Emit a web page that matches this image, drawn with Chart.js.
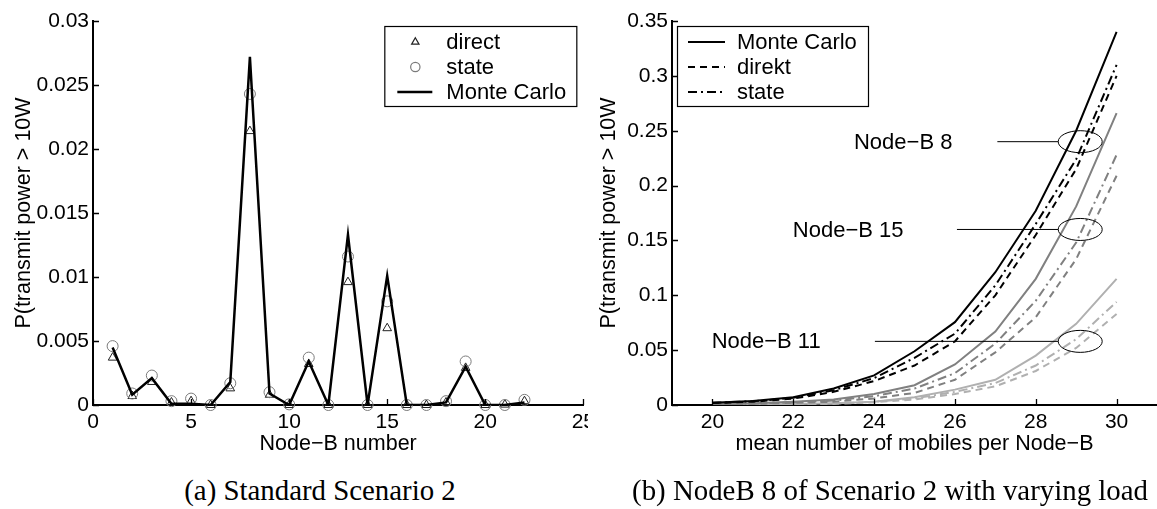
<!DOCTYPE html>
<html><head><meta charset="utf-8">
<script src="https://cdn.jsdelivr.net/npm/chart.js@4.4.0/dist/chart.umd.min.js"></script>
<style>
html,body{margin:0;padding:0;background:#fff;}
body{width:1157px;height:509px;position:relative;overflow:hidden;}
#c1{position:absolute;left:0;top:0;}
#c2{position:absolute;left:588px;top:0;background:#fff;}
.cap{position:absolute;font-family:"Liberation Serif","DejaVu Serif",serif;color:#000;white-space:nowrap;transform:translate(-50%,-50%);font-size:22px;}
</style></head><body>
<canvas id="c1" width="600" height="460"></canvas>
<canvas id="c2" width="569" height="460"></canvas>
<div class="cap" id="capA" style="left:320px;top:490px">(a) Standard Scenario 2</div>
<div class="cap" id="capB" style="left:890px;top:490px">(b) NodeB 8 of Scenario 2 with varying load</div>
<script>
// ---------- data: chart (a) ----------
const nodeIds     = [1,2,3,4,5,6,7,8,9,10,11,12,13,14,15,16,17,18,19,20,21,22];
const monteCarloA = [0.0045,0.0008,0.0021,0.0001,0.0001,0,0.0018,0.0272,0.0009,0,0.0034,0,0.0133,0,0.0101,0,0,0.0002,0.0030,0,0,0.0002];
const directA     = [0.0037,0.0007,0.0018,0.0002,0.0003,0,0.0013,0.0214,0.0008,0,0.0032,0,0.0096,0,0.0060,0,0,0.0002,0.0029,0,0.00003,0.0003];
const stateA      = [0.0046,0.0009,0.0023,0.0003,0.0005,0,0.0017,0.0243,0.0010,0.00005,0.0037,0,0.0116,0,0.0081,0,0,0.0003,0.0034,0,0,0.0004];
const xTicksA = [0,5,10,15,20,25];
const xTickLabelsA = ['0','5','10','15','20','25'];
const yTicksA = [0,0.005,0.01,0.015,0.02,0.025,0.03];
const yTickLabelsA = ['0','0.005','0.01','0.015','0.02','0.025','0.03'];

// ---------- data: chart (b) ----------
const loadB = [20,21,22,23,24,25,26,27,28,29,30];
const mc8     = [0.002,0.0036,0.007,0.015,0.027,0.049,0.0755,0.121,0.177,0.25,0.34];
const direkt8 = [0.0018,0.003,0.0058,0.012,0.0218,0.036,0.058,0.100,0.155,0.215,0.30];
const state8  = [0.002,0.0034,0.0065,0.0135,0.0245,0.043,0.065,0.109,0.165,0.224,0.31];
const mc15     = [0.001,0.0015,0.003,0.005,0.010,0.018,0.037,0.067,0.115,0.181,0.266];
const direkt15 = [0.0005,0.001,0.002,0.003,0.006,0.011,0.023,0.048,0.080,0.133,0.209];
const state15  = [0.0007,0.0012,0.0025,0.004,0.008,0.015,0.029,0.056,0.095,0.148,0.228];
const mc11     = [0.0002,0.0004,0.0008,0.0015,0.003,0.007,0.014,0.023,0.045,0.074,0.115];
const direkt11 = [0.0001,0.0002,0.0005,0.001,0.0025,0.005,0.010,0.017,0.031,0.052,0.083];
const state11  = [0.0002,0.0003,0.0006,0.0012,0.003,0.006,0.012,0.020,0.036,0.060,0.094];
const xTicksB = [20,22,24,26,28,30];
const xTickLabelsB = ['20','22','24','26','28','30'];
const yTicksB = [0,0.05,0.1,0.15,0.2,0.25,0.3,0.35];
const yTickLabelsB = ['0','0.05','0.1','0.15','0.2','0.25','0.3','0.35'];
const nodeLabels = ['Node\u2212B 8','Node\u2212B 15','Node\u2212B 11'];
const nodeLabelY = [0.24,0.16,0.058];

// ---------- styling ----------
Chart.defaults.font.family = '"Liberation Sans", Arial, Helvetica, sans-serif';
Chart.defaults.color = '#000';
const FS = 21;
const FT = 21.5;
const LEGFONT = '22px "Liberation Sans", Arial, sans-serif';
const DASH = [7,5];
const DASHDOT = [9,4,2,4];

function pts(xs, ys){ return xs.map((x,i)=>({x:x,y:ys[i]})); }

const axisDecor = {
  id:'axisDecor',
  afterDraw(chart, args, opts){
    const {ctx, chartArea:a, scales:{x,y}} = chart;
    ctx.save();
    ctx.strokeStyle='#000'; ctx.lineWidth=1.3;
    ctx.beginPath();
    x.ticks.forEach(t=>{const px=Math.round(x.getPixelForValue(t.value))+0.5; ctx.moveTo(px,a.bottom); ctx.lineTo(px,a.bottom-6);});
    y.ticks.forEach(t=>{const py=Math.round(y.getPixelForValue(t.value))+0.5; ctx.moveTo(a.left,py); ctx.lineTo(a.left+6,py);});
    ctx.stroke();
    // legend
    const L = opts.legend;
    if (L){
      const bx = L.anchor==='right' ? a.right - L.dx - L.w : a.left + L.dx;
      const by = L.top;
      ctx.fillStyle='#fff';
      ctx.fillRect(bx,by,L.w,L.h);
      ctx.lineWidth=1.2; ctx.strokeStyle='#000';
      ctx.strokeRect(bx+0.5,by+0.5,L.w,L.h);
      ctx.font = LEGFONT;
      ctx.textBaseline='middle'; ctx.textAlign='left';
      L.items.forEach((it,k)=>{
        const ds = chart.data.datasets[it];
        const ry = by + 16 + k*25;
        if (ds.showLine === false){
          ctx.save();
          ctx.strokeStyle = ds.pointBorderColor; ctx.fillStyle='rgba(0,0,0,0)';
          Chart.helpers.drawPoint(ctx,{pointStyle:ds.pointStyle,radius:ds.pointRadius*0.85,borderWidth:ds.pointBorderWidth,rotation:0},bx+L.mx,ry);
          ctx.restore();
        } else {
          ctx.save();
          ctx.strokeStyle = ds.borderColor; ctx.lineWidth = ds.borderWidth;
          ctx.setLineDash(ds.borderDash||[]);
          ctx.beginPath(); ctx.moveTo(bx+L.l0,ry); ctx.lineTo(bx+L.l1,ry); ctx.stroke();
          ctx.restore();
        }
        ctx.fillStyle='#000';
        ctx.fillText(ds.label, bx+L.tx, ry+1);
      });
    }
    // annotations
    const A = opts.annotations;
    if (A){
      ctx.font = LEGFONT;
      ctx.textBaseline='middle'; ctx.textAlign='center';
      A.forEach(an=>{
        const py = y.getPixelForValue(an.y);
        const ex = x.getPixelForValue(an.ellX);
        ctx.fillStyle='#000';
        ctx.fillText(an.text, x.getPixelForValue(an.textX), py+1);
        ctx.strokeStyle='#000'; ctx.lineWidth=1; ctx.setLineDash([]);
        ctx.beginPath(); ctx.moveTo(x.getPixelForValue(an.lineX), py); ctx.lineTo(ex-22, py); ctx.stroke();
        ctx.beginPath(); ctx.ellipse(ex, py, 22, 11, 0, 0, Math.PI*2); ctx.stroke();
      });
    }
    ctx.restore();
  }
};

function tickFont(){ return {size:FS}; }

// ---------- chart (a) ----------
new Chart(document.getElementById('c1'), {
  type:'line',
  data:{datasets:[
    {label:'Monte Carlo', data:pts(nodeIds,monteCarloA), borderColor:'#000', borderWidth:2.5, pointRadius:0, tension:0, fill:false},
    {label:'state', data:pts(nodeIds,stateA), showLine:false, pointStyle:'circle', pointRadius:5.5, pointBorderColor:'#7a7a7a', pointBackgroundColor:'rgba(0,0,0,0)', pointBorderWidth:1, clip:false},
    {label:'direct', data:pts(nodeIds,directA), showLine:false, pointStyle:'triangle', pointRadius:5, pointBorderColor:'#222', pointBackgroundColor:'rgba(0,0,0,0)', pointBorderWidth:1, clip:false}
  ]},
  options:{
    responsive:false, animation:false, events:[],
    layout:{padding:{top:21,right:15,left:0,bottom:0}},
    plugins:{legend:{display:false}, tooltip:{enabled:false},
      axisDecor:{legend:{anchor:'right', dx:7, w:192, h:80, top:26, items:[2,1,0], mx:31, l0:13, l1:48, tx:62}}},
    scales:{
      x:{type:'linear', min:0, max:25,
        afterBuildTicks:s=>{s.ticks = xTicksA.map(v=>({value:v}));},
        afterFit:s=>{s.height=55;},
        grid:{display:false, drawTicks:false}, border:{display:true, color:'#000', width:2},
        ticks:{padding:5, font:tickFont(), maxRotation:0, autoSkip:false, callback:(v,i)=>xTickLabelsA[i]},
        title:{display:true, text:'Node\u2212B number', font:{size:FT}, padding:{top:0,bottom:3}}},
      y:{type:'linear', min:0, max:0.03,
        afterBuildTicks:s=>{s.ticks = yTicksA.map(v=>({value:v}));},
        afterFit:s=>{s.width=93;},
        grid:{display:false, drawTicks:false}, border:{display:true, color:'#000', width:2},
        ticks:{padding:4, font:tickFont(), autoSkip:false, callback:(v,i)=>yTickLabelsA[i]},
        title:{display:true, text:'P(transmit power > 10W', font:{size:FT}, padding:{top:11,bottom:0}}}
    }
  },
  plugins:[axisDecor]
});

// ---------- chart (b) ----------
const C8='#000000', C15='#808080', C11='#b0b0b0';
function lineDs(label, ys, color, dash){
  return {label:label, data:pts(loadB,ys), borderColor:color, borderWidth:2, borderDash:dash, pointRadius:0, tension:0, fill:false};
}
new Chart(document.getElementById('c2'), {
  type:'line',
  data:{datasets:[
    lineDs('Monte Carlo', mc8, C8, []),
    lineDs('direkt', direkt8, C8, DASH),
    lineDs('state', state8, C8, DASHDOT),
    lineDs('Monte Carlo', mc15, C15, []),
    lineDs('direkt', direkt15, C15, DASH),
    lineDs('state', state15, C15, DASHDOT),
    lineDs('Monte Carlo', mc11, C11, []),
    lineDs('direkt', direkt11, C11, DASH),
    lineDs('state', state11, C11, DASHDOT)
  ]},
  options:{
    responsive:false, animation:false, events:[],
    layout:{padding:{top:21,right:0,left:0,bottom:0}},
    plugins:{legend:{display:false}, tooltip:{enabled:false},
      axisDecor:{
        legend:{anchor:'left', dx:5, w:191, h:80, top:26, items:[0,1,2], mx:30, l0:11, l1:48, tx:60},
        annotations:[
          {text:nodeLabels[0], y:nodeLabelY[0], textX:24.72, lineX:27.05, ellX:29.1},
          {text:nodeLabels[1], y:nodeLabelY[1], textX:23.36, lineX:26.05, ellX:29.1},
          {text:nodeLabels[2], y:nodeLabelY[2], textX:21.33, lineX:24.02, ellX:29.1}
        ]}},
    scales:{
      x:{type:'linear', min:19, max:31,
        afterBuildTicks:s=>{s.ticks = xTicksB.map(v=>({value:v}));},
        afterFit:s=>{s.height=55;},
        grid:{display:false, drawTicks:false}, border:{display:true, color:'#000', width:2},
        ticks:{padding:5, font:tickFont(), maxRotation:0, autoSkip:false, callback:(v,i)=>xTickLabelsB[i]},
        title:{display:true, text:'mean number of mobiles per Node\u2212B', font:{size:FT}, padding:{top:0,bottom:3}}},
      y:{type:'linear', min:0, max:0.35,
        afterBuildTicks:s=>{s.ticks = yTicksB.map(v=>({value:v}));},
        afterFit:s=>{s.width=84;},
        grid:{display:false, drawTicks:false}, border:{display:true, color:'#000', width:2},
        ticks:{padding:4, font:tickFont(), autoSkip:false, callback:(v,i)=>yTickLabelsB[i]},
        title:{display:true, text:'P(transmit power > 10W', font:{size:FT}, padding:{top:8,bottom:0}}}
    }
  },
  plugins:[axisDecor]
});

// caption sizing to match widths
(function(){
  const cv=document.createElement('canvas').getContext('2d');
  cv.font='22px "Liberation Serif"';
  const w=cv.measureText(document.getElementById('capB').textContent).width;
  const fs=22*516/w;
  document.getElementById('capA').style.fontSize=fs+'px';
  document.getElementById('capB').style.fontSize=fs+'px';
})();
</script>
</body></html>
